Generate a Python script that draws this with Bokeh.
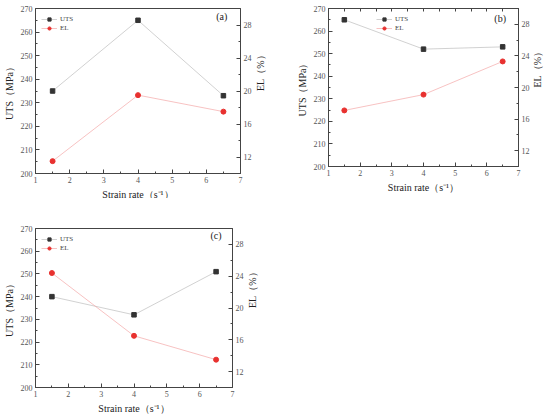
import math
from bokeh.plotting import figure
from bokeh.models import (LinearAxis, Range1d, FixedTicker, Legend, LegendItem, Label)
from bokeh.layouts import column, row
from bokeh.embed import file_html
from bokeh.resources import INLINE

rates = [1.5, 4.0, 6.5]
uts_a = [235, 265, 233]
el_a = [11.5, 19.5, 17.5]
uts_b = [265, 252, 253]
el_b = [17.1, 19.1, 23.3]
uts_c = [240, 232, 251]
el_c = [24.4, 16.5, 13.5]

x_ticks = [1, 2, 3, 4, 5, 6, 7]
x_minor = [1.5, 2.5, 3.5, 4.5, 5.5, 6.5]
uts_ticks = [200, 210, 220, 230, 240, 250, 260, 270]
uts_minor = [205, 215, 225, 235, 245, 255, 265]
el_ticks = [12, 16, 20, 24, 28]
el_minor = [14, 18, 22, 26, 30]

FONT = "Liberation Serif"
AX = "#444444"


def style_axis(ax, standoff=3):
    ax.axis_line_color = AX
    ax.major_tick_line_color = AX
    ax.minor_tick_line_color = AX
    ax.major_tick_in = 4
    ax.major_tick_out = 0
    ax.minor_tick_in = 2
    ax.minor_tick_out = 0
    ax.major_label_text_font = FONT
    ax.major_label_text_font_size = "8px"
    ax.major_label_text_color = "#555555"
    ax.major_label_standoff = 3
    ax.axis_label_text_font = FONT
    ax.axis_label_text_font_size = "10px"
    ax.axis_label_text_font_style = "normal"
    ax.axis_label_text_color = "#222222"
    ax.axis_label_standoff = standoff


def make(uts, el, letter, lb, fw, rb, tb, fh, bb, leg_x, lx, ly, top_ticks=False, rstand=6):
    p = figure(frame_width=fw, frame_height=fh, min_border_left=lb, min_border_right=rb,
               min_border_top=tb, min_border_bottom=bb,
               x_range=Range1d(1, 7), y_range=Range1d(200, 270),
               output_backend="svg", toolbar_location=None)
    p.extra_y_ranges = {"el": Range1d(10, 30)}
    p.xgrid.visible = False
    p.ygrid.visible = False
    p.outline_line_color = AX
    p.outline_line_alpha = 1

    p.xaxis.ticker = FixedTicker(ticks=x_ticks, minor_ticks=x_minor)
    p.yaxis.ticker = FixedTicker(ticks=uts_ticks, minor_ticks=uts_minor)
    p.xaxis.axis_label = "Strain rate（s⁻¹）"
    p.yaxis.axis_label = "UTS（MPa）"
    style_axis(p.xaxis[0])
    style_axis(p.yaxis[0])

    rax = LinearAxis(y_range_name="el", axis_label="EL（%）",
                     ticker=FixedTicker(ticks=el_ticks, minor_ticks=el_minor))
    style_axis(rax, rstand)
    rax.axis_label_orientation = math.pi / 2
    p.add_layout(rax, "right")

    if top_ticks:
        # tick marks only (no labels): all positions drawn as label-less minor ticks
        tax = LinearAxis(ticker=FixedTicker(ticks=[], minor_ticks=sorted(x_ticks + x_minor)))
        style_axis(tax)
        tax.minor_tick_in = 3
        tax.major_label_standoff = 0
        tax.axis_label_standoff = 0
        p.add_layout(tax, "above")

    l1 = p.line(rates, uts, line_color="#bdbdbd", line_width=0.7)
    s1 = p.scatter(rates, uts, marker="square", size=4.5, fill_color="#333333", line_color="#333333")
    l2 = p.line(rates, el, y_range_name="el", line_color="#f3a8a8", line_width=0.7)
    s2 = p.scatter(rates, el, y_range_name="el", marker="circle", size=5,
                   fill_color="#e8312f", line_color="#e8312f")

    leg = Legend(items=[LegendItem(label="UTS", renderers=[l1, s1]),
                        LegendItem(label="EL", renderers=[l2, s2])],
                 location=(leg_x, fh - 26))
    leg.border_line_alpha = 0
    leg.background_fill_alpha = 0
    leg.label_text_font = FONT
    leg.label_text_font_size = "7px"
    leg.label_height = 8
    leg.glyph_height = 8
    leg.glyph_width = 16
    leg.spacing = 1
    leg.padding = 2
    leg.margin = 0
    leg.label_standoff = 3
    p.add_layout(leg)

    p.add_layout(Label(x=lx, y=ly, text=letter, text_font=FONT, text_font_size="10px",
                       text_align="center", text_baseline="middle", text_color="#222222"))
    return p


fa = make(uts_a, el_a, "(a)", 28, 205, 30, 4, 165, 26, 4, 6.45, 266.5)
fb = make(uts_b, el_b, "(b)", 54, 190, 27, 8, 158, 29, 46, 6.42, 265.6, top_ticks=True, rstand=5)
fc = make(uts_c, el_c, "(c)", 32, 197, 30, 30, 159, 25, 4, 6.5, 267)

layout = column(row(fa, fb), row(fc))
open("out.html", "w").write(file_html(layout, INLINE))
